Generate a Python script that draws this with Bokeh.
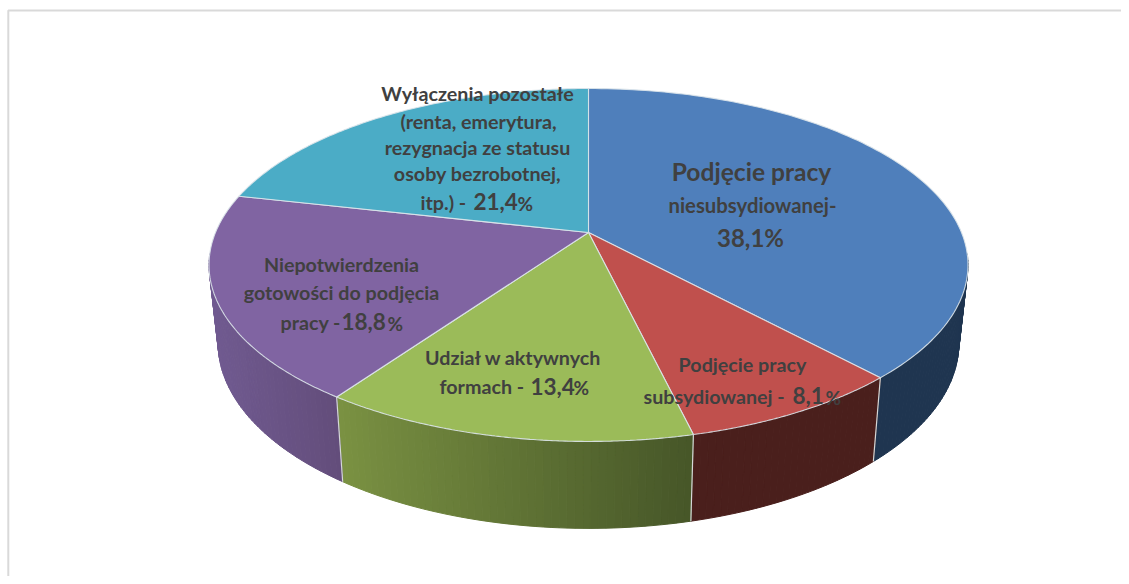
import numpy as np
from bokeh.plotting import figure
from bokeh.models import Range1d
from bokeh.core.properties import value
from bokeh.embed import file_html
from bokeh.resources import INLINE

categories = ["Podjęcie pracy niesubsydiowanej", "Podjęcie pracy subsydiowanej",
              "Udział w aktywnych formach", "Niepotwierdzenia gotowości do podjęcia pracy",
              "Wyłączenia pozostałe"]
shares = [38.1, 8.1, 13.4, 18.8, 21.4]
top_colors = ["#4F7FBB", "#C0504D", "#9BBB59", "#8064A2", "#4BACC6"]
side_left = ["#1F3550", "#4A1F1C", "#7A9142", "#705A90", "#2F7F90"]
side_right = ["#1F3550", "#4A1F1C", "#465628", "#634D7B", "#2F7F90"]

W, H = 1121, 576
p = figure(width=W, height=H, output_backend="svg", toolbar_location=None,
           x_range=Range1d(0, W), y_range=Range1d(H, 0), min_border=0)
p.axis.visible = False
p.grid.visible = False
p.outline_line_color = None
p.background_fill_color = "white"

# frame of the picture (top and left only)
p.line([7.8, 7.8, 1129], [584, 10, 10], line_color="#D9D9D9", line_width=2)

CX, CY, RX, RY, K = 588.0, 232.0, 373.0, 170.5, 0.184
BOT_SX, BOT_SY, BOT_CY = 0.976, 1.05, 308.5


def rim(theta):
    d = 1 + K * np.cos(theta)
    return RX * np.sin(theta) / d, -RY * np.cos(theta) / d


def top_pt(theta):
    x, y = rim(theta)
    return CX + x, CY + y


def bot_pt(theta):
    x, y = rim(theta)
    return CX + BOT_SX * x, BOT_CY + BOT_SY * y


def hexmix(a, b, t):
    ca = np.array([int(a[i:i + 2], 16) for i in (1, 3, 5)], float)
    cb = np.array([int(b[i:i + 2], 16) for i in (1, 3, 5)], float)
    c = ca + (cb - ca) * t
    return "#%02X%02X%02X" % tuple(int(round(v)) for v in c)


total = sum(shares)
edges = np.concatenate([[0], np.cumsum(shares)]) / total * 2 * np.pi
FRONT_A, FRONT_B = np.radians(97), np.radians(263)

# sides, drawn as thin strips so that the shading runs across each slice
for i in range(len(shares)):
    a, b = max(edges[i], FRONT_A), min(edges[i + 1], FRONT_B)
    if b <= a:
        continue
    n = max(2, int((b - a) / np.radians(1.0)))
    th = np.linspace(a, b, n + 1)
    xs, ys, cols = [], [], []
    x0 = top_pt(b)[0]
    x1 = top_pt(a)[0]
    for j in range(n):
        t0, t1 = th[j], th[j + 1]
        tx0, ty0 = top_pt(t0)
        tx1, ty1 = top_pt(t1)
        bx0, by0 = bot_pt(t0)
        bx1, by1 = bot_pt(t1)
        xs.append([tx0, tx1, bx1, bx0])
        ys.append([ty0, ty1, by1, by0])
        cols.append(hexmix(side_left[i], side_right[i], ((tx0 + tx1) / 2 - x0) / max(x1 - x0, 1)))
    p.patches(xs, ys, fill_color=cols, line_color=cols, line_width=1)

# seams between the sides
for i in range(1, len(shares)):
    e = edges[i]
    if FRONT_A < e < FRONT_B:
        tx, ty = top_pt(e)
        bx, by = bot_pt(e)
        p.line([tx, bx], [ty, by], line_color="#D5D8D8", line_width=1.2)

# top faces
for i in range(len(shares)):
    th = np.linspace(edges[i], edges[i + 1], 120)
    px, py = top_pt(th)
    xs = np.concatenate([[CX], px])
    ys = np.concatenate([[CY], py])
    p.patch(xs, ys, fill_color=top_colors[i], line_color="#DCE4EA", line_width=1.1, line_alpha=0.9)

INK = "#404040"


def put(txt, x, y, size, align="center"):
    p.text([x], [y], text=[txt], text_font=value("Lato"), text_font_style="bold",
           text_font_size=f"{size}px", text_color=INK, text_align=align, text_baseline="middle")


# Podjęcie pracy niesubsydiowanej
put("Podjęcie pracy", 751, 171, 24.6)
put("niesubsydiowanej-", 752, 204, 20.3)
put("38,1%", 750, 237, 24)
# Podjęcie pracy subsydiowanej
put("Podjęcie pracy", 742, 364, 19.7)
put("subsydiowanej -", 643, 396, 19.7, "left")
put("8,1", 792, 395, 22.5, "left")
put("%", 825, 397, 19, "left")
# Udział w aktywnych formach
put("Udział w aktywnych", 513, 357, 19.7)
put("formach -", 439, 386, 19.7, "left")
put("13,4", 530, 386, 22.5, "left")
put("%", 573, 387, 19, "left")
# Niepotwierdzenia gotowości
put("Niepotwierdzenia", 341, 264, 19.7)
put("gotowości do podjęcia", 341, 292, 19.7)
put("pracy -", 280, 322, 19.7, "left")
put("18,8", 341, 321, 22.5, "left")
put("%", 387, 323, 19, "left")
# Wyłączenia pozostałe
put("Wyłączenia pozostałe", 477, 93, 19.7)
put("(renta, emerytura,", 478, 121, 19.7)
put("rezygnacja ze statusu", 477, 147, 19.7)
put("osoby bezrobotnej,", 477, 173, 19.7)
put("itp.) -", 420, 202, 19.7, "left")
put("21,4", 473, 201, 22.5, "left")
put("%", 517, 203, 19, "left")

open("out.html", "w").write(file_html(p, INLINE))
